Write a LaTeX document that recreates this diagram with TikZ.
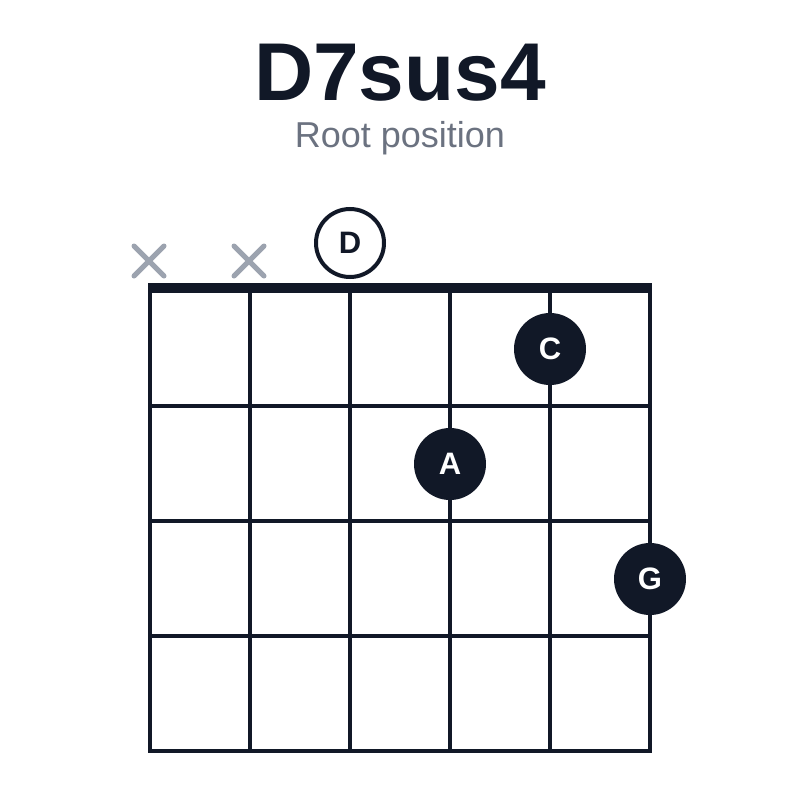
\documentclass[tikz,border=0pt]{standalone}
\usepackage{fontspec}
\setmainfont{Liberation Sans}
\usetikzlibrary{shapes.misc}
\definecolor{ink}{HTML}{111827}
\definecolor{subgray}{HTML}{6B7280}
\definecolor{mutegray}{HTML}{9CA3AF}
\tikzset{
  dotnote/.style={circle, fill=ink, minimum size=72pt, inner sep=0pt,
    text=white, font=\fontsize{31}{31}\selectfont\bfseries},
  opennote/.style={circle, draw=ink, line width=4pt, fill=white,
    minimum size=68pt, inner sep=0pt, text=ink, font=\fontsize{31}{31}\selectfont\bfseries},
  mutemark/.style={cross out, draw=mutegray, line width=5pt, line cap=round,
    minimum size=30pt, inner sep=0pt, outer sep=0pt},
  wire/.style={ink, line width=3.2pt}
}
\begin{document}
\begin{tikzpicture}[x=1pt, y=-1pt]
    \useasboundingbox (0,0) rectangle (800,800);
    \fill[white] (0,0) rectangle (800,800);

    \node[text=ink, font=\fontsize{82}{90}\selectfont\bfseries, anchor=base] (title) at (400, 100) {D7sus4};
    \node[text=subgray, font=\fontsize{36}{40}\selectfont, anchor=base] (subtitle) at (400, 147) {Root position};

    % strings
    \draw[wire] (150, 288) -- (150, 751);
    \draw[wire] (250, 288) -- (250, 751);
    \draw[wire] (350, 288) -- (350, 751);
    \draw[wire] (450, 288) -- (450, 751);
    \draw[wire] (550, 288) -- (550, 751);
    \draw[wire] (650, 288) -- (650, 751);

    % frets
    \draw[wire] (148.4, 406) -- (651.6, 406);
    \draw[wire] (148.4, 521) -- (651.6, 521);
    \draw[wire] (148.4, 636) -- (651.6, 636);
    \draw[wire] (148.4, 751) -- (651.6, 751);

    % nut
    \draw[ink, line width=10.5pt] (148.4, 288) -- (651.6, 288);

    \node[mutemark] (mute6) at (149, 261) {};
    \node[mutemark] (mute5) at (249, 261) {};
    \node[opennote] (open4) at (350, 243) {D};

    \node[dotnote] (note2) at (550, 349) {C};
    \node[dotnote] (note3) at (450, 464) {A};
    \node[dotnote] (note1) at (650, 579) {G};
\end{tikzpicture}
\end{document}
